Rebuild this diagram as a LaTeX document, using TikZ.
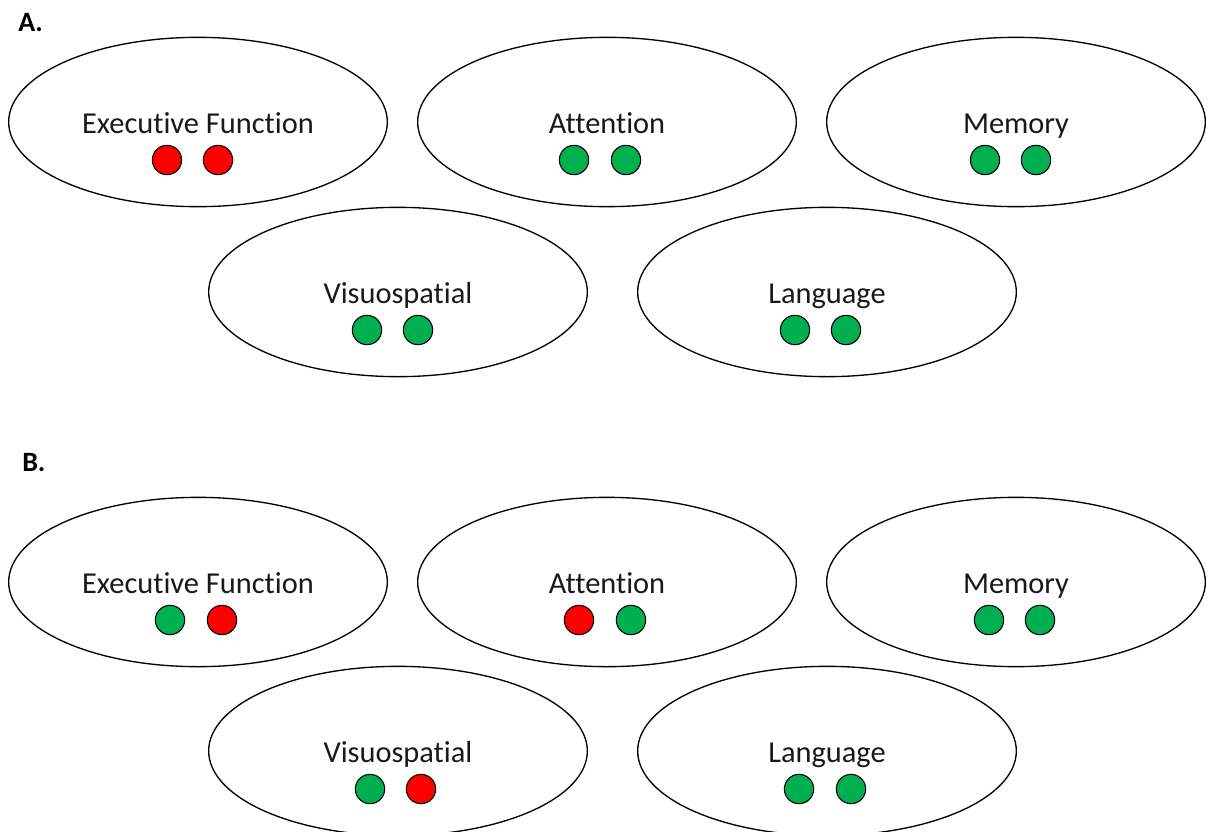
\documentclass[tikz,border=0pt]{standalone}
\usepackage{fontspec}
\setmainfont{Carlito}[Ligatures=CommonOff]
\usetikzlibrary{shapes.geometric}
\definecolor{dotred}{HTML}{FF0000}
\definecolor{dotgreen}{HTML}{00B050}
\tikzset{
  ell/.style={ellipse, draw=black, line width=1pt, minimum width=284pt, minimum height=127pt, inner sep=0pt},
  lbl/.style={font=\fontsize{22.8}{26}\selectfont, text=black!90, inner sep=0pt, anchor=base},
  dot/.style={circle, draw=black, line width=0.8pt, minimum size=22pt, inner sep=0pt, fill=#1},
  panel/.style={font=\fontsize{21}{24}\selectfont\bfseries, inner sep=0pt, anchor=base west}
}
\newcommand\mydomain[8]{%
  \node[ell] (#1) at (#2,#3) {};
  \node[lbl] (#1-t) at (#2,#3+11) {#4};
  \node[dot=#5] (#1-a) at (#2+#7,#3+38) {};
  \node[dot=#6] (#1-b) at (#2+#8,#3+38) {};
}
\begin{document}
\begin{tikzpicture}[x=0.75pt,y=-0.75pt]
\useasboundingbox (0,0) rectangle (1207,832);
\clip (0,0) rectangle (1207,832);
\fill[white] (0,0) rectangle (1207,832);
\node[panel] (A) at (18,31) {A.};
\mydomain{efA}{198}{122}{Executive Function}{dotred}{dotred}{-31}{20}
\mydomain{atA}{607}{122}{Attention}{dotgreen}{dotgreen}{-33}{19}
\mydomain{meA}{1016}{122}{Memory}{dotgreen}{dotgreen}{-31}{20}
\mydomain{viA}{398}{292}{Visuospatial}{dotgreen}{dotgreen}{-31}{20}
\mydomain{laA}{827}{292}{Language}{dotgreen}{dotgreen}{-32}{19}
\node[panel] (B) at (22,471) {B.};
\mydomain{efB}{198}{582}{Executive Function}{dotgreen}{dotred}{-28}{24}
\mydomain{atB}{607}{582}{Attention}{dotred}{dotgreen}{-28}{24}
\mydomain{meB}{1016}{582}{Memory}{dotgreen}{dotgreen}{-27}{24}
\mydomain{viB}{398}{751}{Visuospatial}{dotgreen}{dotred}{-28}{23}
\mydomain{laB}{827}{751}{Language}{dotgreen}{dotgreen}{-28}{24}
\end{tikzpicture}
\end{document}
